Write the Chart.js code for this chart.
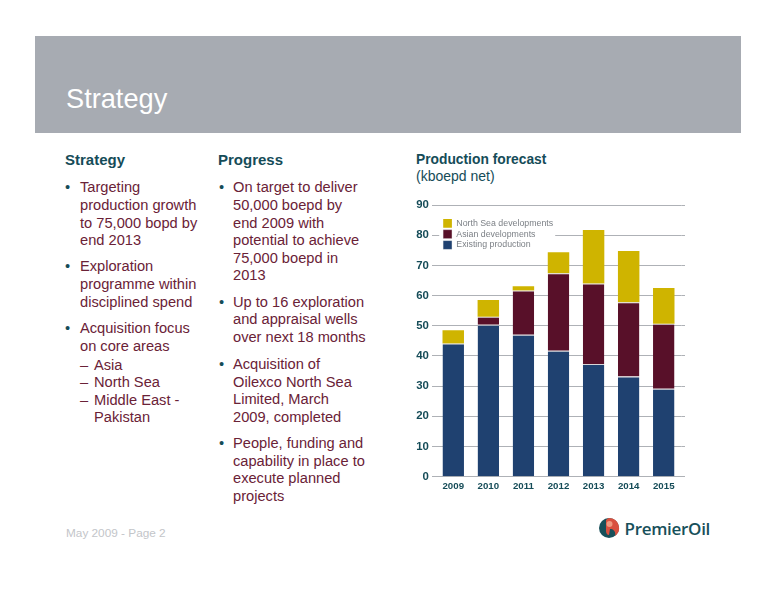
<!DOCTYPE html>
<html><head><meta charset="utf-8">
<script src="https://cdn.jsdelivr.net/npm/chart.js@4"></script>
<style>
html,body{margin:0;padding:0;background:#fff;width:776px;height:600px;overflow:hidden;font-family:"Liberation Sans",Arial,sans-serif}
#banner{position:absolute;left:35px;top:36px;width:706px;height:97px;background:#a7abb2}
.t{position:absolute;white-space:pre;line-height:18px;height:18px}
.b{color:#6a2237;font-size:14.65px}
.h{color:#154c58;font-size:15px;font-weight:bold}
.d{color:#154c58;font-size:14.65px}
#cv{position:absolute;left:400px;top:195px}
</style></head><body>
<div id="banner"></div>
<div id="text"></div>
<canvas id="cv" width="300" height="300" style="width:300px;height:300px"></canvas>
<svg style="position:absolute;left:598px;top:517px" width="22" height="22" viewBox="0 0 22 22">
<circle cx="11" cy="11" r="10" fill="#17505a"/>
<path d="M11 1a10 10 0 0 1 6 18c1-4-1-7-5-7l-1 6c-2 0-3-2-3-4V3c1-1 2-2 3-2z" fill="#d9503f"/>
<circle cx="11.500" cy="7" r="3" fill="#ef9a80"/>
</svg>
<div class="t" style="left:624.500px;top:519.500px;font-family:'Open Sans';font-size:17px;font-weight:600;color:#17505a;letter-spacing:-.3px">PremierOil</div>
<script>
const categories = ['2009','2010','2011','2012','2013','2014','2015'];
const existingProduction = [44.1,50.3,47,41.7,37.3,33.2,29.1];
const asianDevelopments = [0,2.7,14.7,25.7,26.7,24.6,21.6];
const northSeaDevelopments = [4.4,5.5,1.4,7,17.7,17,11.8];
const yTicks = [0,10,20,30,40,50,60,70,80,90];
const col1 = [[187,'Targeting',1],[205,'production growth'],[222.5,'to 75,000 bopd by'],[240,'end 2013'],
 [266,'Exploration',1],[284,'programme within'],[302,'disciplined spend'],
 [328,'Acquisition focus',1],[346,'on core areas']];
const col1sub = [[365,'Asia',1],[382,'North Sea',1],[399.5,'Middle East -',1],[416.5,'Pakistan']];
const col2 = [[187,'On target to deliver',1],[205,'50,000 boepd by'],[222.5,'end 2009 with'],[240,'potential to achieve'],[257.5,'75,000 boepd in'],[275,'2013'],
 [301.5,'Up to 16 exploration',1],[319,'and appraisal wells'],[337,'over next 18 months'],
 [364,'Acquisition of',1],[382,'Oilexco North Sea'],[399,'Limited, March'],[417,'2009, completed'],
 [443,'People, funding and',1],[460.5,'capability in place to'],[478,'execute planned'],[496,'projects']];

const root = document.getElementById('text');
function add(x,y,s,cls,style){const e=document.createElement('div');e.className='t '+cls;e.style.left=x+'px';e.style.top=(y-9)+'px';e.textContent=s;if(style)e.style.cssText+=style;root.appendChild(e);}
add(66,99,'Strategy','', 'color:#fff;font-size:27.2px;line-height:18px');
add(65,160,'Strategy','h');
add(218,160,'Progress','h');
add(416,160,'Production forecast','h','font-size:13.8px');
add(416,176,'(kboepd net)','', 'font-size:14px;color:#154c58');
add(66,532.500,'May 2009 - Page 2','', 'font-size:11.8px;color:#c3c5c9');
col1.forEach(l=>{add(80,l[0],l[1],'b');if(l[2])add(65,l[0],'•','d');});
col1sub.forEach(l=>{add(94,l[0],l[1],'b');if(l[2])add(80,l[0],'–','b');});
col2.forEach(l=>{add(233,l[0],l[1],'b');if(l[2])add(219,l[0],'•','d');});

const gridColor = '#aeb1b6';
const sepColor = '#d8d6d8';
const legendPlace = {
  id:'legendPlace',
  afterLayout(chart){
    const lg = chart.legend;
    lg.left += 5.5; lg.right += 5.5; lg.top += 22; lg.bottom += 22;
    lg.adjustHitBoxes();
    if(!lg._wrapped){
      const d = lg.draw;
      lg.draw = function(){
        const c = this.ctx; c.save(); c.fillStyle='#fff';
        c.fillRect(this.left-2, this.top-1, 116, 38); c.restore();
        d.call(this);
      };
      lg._wrapped = true;
    }
  },
  beforeDatasetsDraw(chart){
    const y = chart.scales.y, a = chart.chartArea, c = chart.ctx;
    c.save(); c.strokeStyle = gridColor; c.lineWidth = 1;
    y.ticks.forEach((t,i)=>{const p = Math.round(y.getPixelForTick(i)-.5)+.5;
      c.beginPath(); c.moveTo(a.right,p); c.lineTo(a.right+3.7,p); c.stroke();});
    c.restore();
  }
};
new Chart(document.getElementById('cv'),{
  type:'bar',
  data:{labels:categories,datasets:[
    {label:'Existing production',data:existingProduction,backgroundColor:'#1f4170',borderWidth:{top:1,left:0,right:0,bottom:0}},
    {label:'Asian developments',data:asianDevelopments,backgroundColor:'#581029',borderWidth:{top:1,left:0,right:0,bottom:0}},
    {label:'North Sea developments',data:northSeaDevelopments,backgroundColor:'#cfb400',borderWidth:0}
  ].map(d=>Object.assign(d,{borderColor:sepColor,borderSkipped:false}))},
  options:{
    responsive:false,animation:false,
    devicePixelRatio:1,
    layout:{padding:{left:0,right:18.7,top:8.4,bottom:0}},
    datasets:{bar:{barPercentage:1,categoryPercentage:.612}},
    plugins:{
      tooltip:{enabled:false},
      legend:{position:'chartArea',align:'start',reverse:true,
        labels:{boxWidth:8.7,boxHeight:8.7,padding:2,color:'#7c8086',font:{family:'Liberation Sans',size:8.8}}}
    },
    scales:{
      x:{stacked:true,
        afterFit(s){s.height=18.3;},
        grid:{display:false,drawTicks:false,tickLength:0},border:{color:gridColor,width:1},
        ticks:{color:'#154c58',font:{family:'Liberation Sans',size:9.7,weight:'bold'},padding:4,maxRotation:0,autoSkip:false}},
      y:{stacked:true,min:0,max:90,
        afterFit(s){s.width=35.7;},
        afterBuildTicks(s){s.ticks=yTicks.map(v=>({value:v}));},
        grid:{color:gridColor,lineWidth:1,tickLength:3.7,drawTicks:true},border:{display:false},
        ticks:{color:'#154c58',font:{family:'Liberation Sans',size:11.4,weight:'bold'},padding:3.2}}
    }
  },
  plugins:[legendPlace]
});
</script>
</body></html>
